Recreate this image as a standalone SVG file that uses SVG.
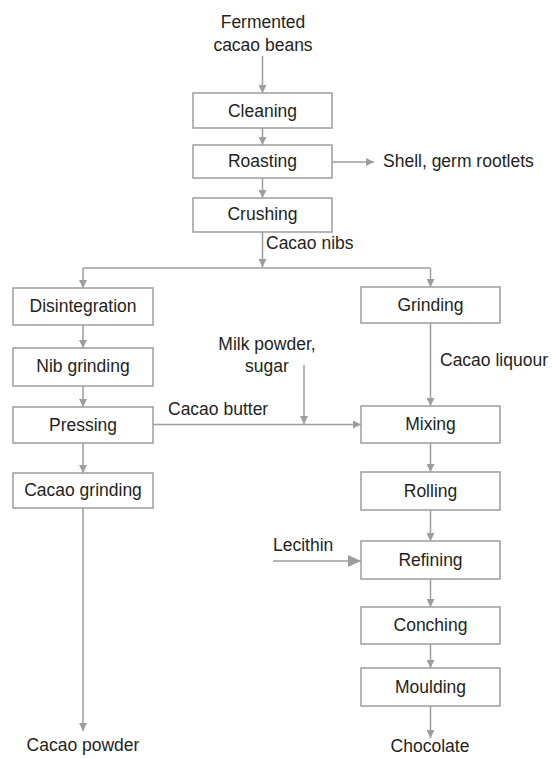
<svg xmlns="http://www.w3.org/2000/svg" width="552" height="758" viewBox="0 0 552 758">
<style>
  .box { fill: #ffffff; stroke: #9d9d9d; stroke-width: 1.5; }
  .lbl { font-family: "Liberation Sans", Arial, sans-serif; font-size: 17.5px; fill: #231f20; }
  .c { text-anchor: middle; }
  .ln { stroke: #9d9d9d; stroke-width: 1.5; fill: none; }
  .arr { marker-end: url(#ah); }
  .arrL { marker-end: url(#ahL); }
</style>
<defs>
  <marker id="ah" viewBox="0 0 8 8" refX="8" refY="4" markerWidth="8" markerHeight="8" markerUnits="userSpaceOnUse" orient="auto">
    <path d="M0,0 L8,4 L0,8 z" fill="#9d9d9d"/>
  </marker>
  <marker id="ahL" viewBox="0 0 13 12" refX="13" refY="6" markerWidth="13" markerHeight="12" markerUnits="userSpaceOnUse" orient="auto">
    <path d="M0,0 L13,6 L0,12 z" fill="#9d9d9d"/>
  </marker>
</defs>
<rect width="552" height="758" fill="#ffffff"/>

<g id="connectors">
  <line class="ln arr" x1="262.5" y1="56" x2="262.5" y2="93"/>
  <line class="ln arr" x1="262.5" y1="128" x2="262.5" y2="145"/>
  <line class="ln arr" x1="262.5" y1="178" x2="262.5" y2="198"/>
  <line class="ln arr" x1="332" y1="162" x2="374" y2="162"/>
  <line class="ln arr" x1="262.5" y1="232" x2="262.5" y2="267"/>
  <line class="ln" x1="83" y1="268" x2="430.5" y2="268"/>
  <line class="ln arr" x1="83" y1="268" x2="83" y2="288"/>
  <line class="ln arr" x1="430.5" y1="268" x2="430.5" y2="287"/>
  <line class="ln arr" x1="83" y1="325" x2="83" y2="348"/>
  <line class="ln arr" x1="83" y1="386" x2="83" y2="407"/>
  <line class="ln arr" x1="83" y1="443" x2="83" y2="473"/>
  <line class="ln arr" x1="83" y1="508" x2="83" y2="731"/>
  <line class="ln arr" x1="430.5" y1="323" x2="430.5" y2="406"/>
  <line class="ln arr" x1="430.5" y1="443" x2="430.5" y2="472"/>
  <line class="ln arr" x1="430.5" y1="510" x2="430.5" y2="541"/>
  <line class="ln arr" x1="430.5" y1="579" x2="430.5" y2="607"/>
  <line class="ln arr" x1="430.5" y1="644" x2="430.5" y2="668"/>
  <line class="ln arr" x1="430.5" y1="706" x2="430.5" y2="738"/>
  <line class="ln arr" x1="153" y1="424.5" x2="361" y2="424.5"/>
  <line class="ln arr" x1="304" y1="365" x2="304" y2="424"/>
  <line class="ln arrL" x1="273" y1="561" x2="361" y2="561"/>
</g>

<g id="input-beans"><text class="lbl c" x="263" y="28">Fermented</text><text class="lbl c" x="263" y="51">cacao beans</text></g>
<g id="cleaning"><rect class="box" x="193" y="93" width="139" height="35"/><text class="lbl c" x="262.5" y="117">Cleaning</text></g>
<g id="roasting"><rect class="box" x="193" y="145" width="139" height="33"/><text class="lbl c" x="262.5" y="167">Roasting</text></g>
<g id="shell"><text class="lbl" x="383" y="167">Shell, germ rootlets</text></g>
<g id="crushing"><rect class="box" x="193" y="198" width="139" height="34"/><text class="lbl c" x="262.5" y="220">Crushing</text></g>
<g id="nibs-label"><text class="lbl" x="266" y="249">Cacao nibs</text></g>

<g id="disintegration"><rect class="box" x="13" y="288" width="140" height="37"/><text class="lbl c" x="83" y="312">Disintegration</text></g>
<g id="nib-grinding"><rect class="box" x="13" y="348" width="140" height="38"/><text class="lbl c" x="83" y="372">Nib grinding</text></g>
<g id="pressing"><rect class="box" x="13" y="407" width="140" height="36"/><text class="lbl c" x="83" y="431">Pressing</text></g>
<g id="cacao-grinding"><rect class="box" x="13" y="473" width="140" height="35"/><text class="lbl c" x="83" y="496">Cacao grinding</text></g>
<g id="cacao-powder"><text class="lbl c" x="83" y="751">Cacao powder</text></g>

<g id="grinding"><rect class="box" x="361" y="287" width="139" height="36"/><text class="lbl c" x="430.5" y="311">Grinding</text></g>
<g id="liquour-label"><text class="lbl" x="440" y="366">Cacao liquour</text></g>
<g id="milk-sugar"><text class="lbl c" x="267" y="350">Milk powder,</text><text class="lbl c" x="267" y="372">sugar</text></g>
<g id="butter-label"><text class="lbl" x="168" y="415">Cacao butter</text></g>
<g id="mixing"><rect class="box" x="361" y="406" width="139" height="37"/><text class="lbl c" x="430.5" y="430">Mixing</text></g>
<g id="rolling"><rect class="box" x="361" y="472" width="139" height="38"/><text class="lbl c" x="430.5" y="497">Rolling</text></g>
<g id="lecithin"><text class="lbl" x="273" y="551">Lecithin</text></g>
<g id="refining"><rect class="box" x="361" y="541" width="139" height="38"/><text class="lbl c" x="430.5" y="566">Refining</text></g>
<g id="conching"><rect class="box" x="361" y="607" width="139" height="37"/><text class="lbl c" x="430.5" y="631">Conching</text></g>
<g id="moulding"><rect class="box" x="361" y="668" width="139" height="38"/><text class="lbl c" x="430.5" y="693">Moulding</text></g>
<g id="chocolate"><text class="lbl c" x="430" y="752">Chocolate</text></g>
</svg>
